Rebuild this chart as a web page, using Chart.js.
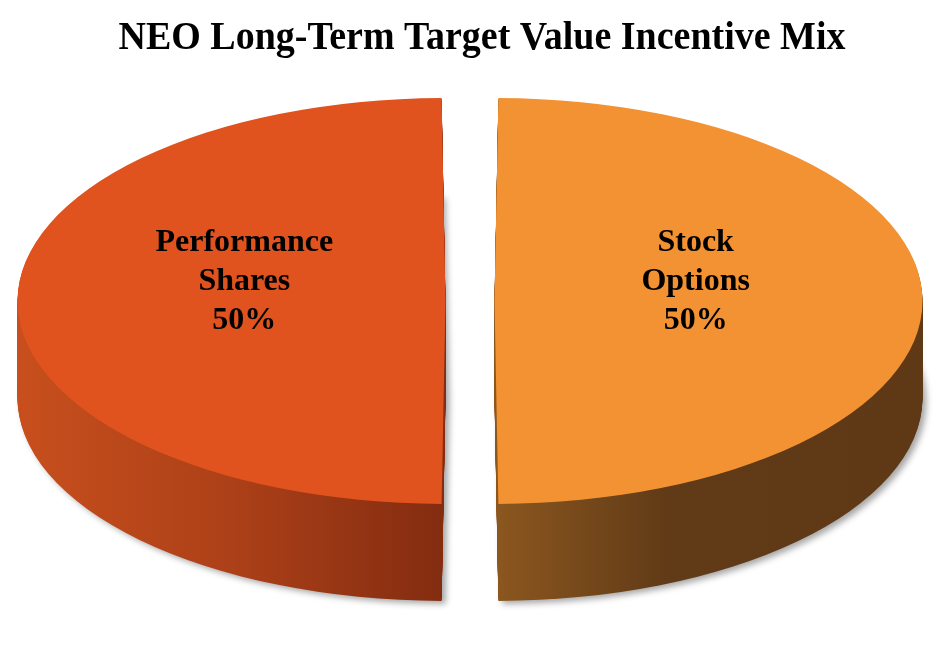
<!DOCTYPE html>
<html>
<head>
<meta charset="utf-8">
<script src="https://cdn.jsdelivr.net/npm/chart.js@4.4.0/dist/chart.umd.min.js"></script>
<style>
  html, body { margin: 0; padding: 0; background: #ffffff; }
  #wrap { width: 943px; height: 671px; position: relative; }
</style>
</head>
<body>
<div id="wrap"><canvas id="c" width="943" height="671"></canvas></div>
<script>
// ---- data ----
const chartTitle = 'NEO Long-Term Target Value Incentive Mix';
const categories = ['Stock Options', 'Performance Shares'];
const labelLines = [['Stock', 'Options'], ['Performance', 'Shares']];
const values = [50, 50];
const topColors = ['#F39232', '#E0531F'];
const sideColorStops = [
  [[0, '#8C571F'], [0.4, '#613B17'], [1, '#5F3915']],
  [[0, '#C84F1D'], [0.5, '#AC4018'], [1, '#832C10']]
];

// ---- geometry / style ----
const EXPLODE = 98;         // Chart.js arc offset (translates by offset/4)
const SQUASH = 203 / 428;   // vertical flattening of the pie top
const DEPTH = 97;           // thickness of the pie in px

function arcGeom(arc) {
  const p = arc.getProps(['x', 'y', 'startAngle', 'endAngle', 'outerRadius', 'circumference']);
  const half = (p.startAngle + p.endAngle) / 2;
  const off = (arc.options.offset || 0) / 4;
  const fix = 1 - Math.sin(Math.min(Math.PI, p.circumference || 0));
  const radOff = off * fix;
  const r = p.outerRadius + radOff;
  const circ = p.endAngle - p.startAngle;
  const beta = Math.max(0.001, circ * r - radOff / Math.PI) / r;
  const ao = (circ - beta) / 2;
  return {
    ox: p.x + Math.cos(half) * off,
    oy: p.y + Math.sin(half) * off,
    r: r,
    start: p.startAngle + ao, end: p.endAngle - ao, half
  };
}

const pie3d = {
  id: 'pie3d',
  beforeDatasetsDraw(chart) {
    const meta = chart.getDatasetMeta(0);
    const ctx = chart.ctx;
    const cy = meta.data[0].y;
    meta.data.forEach((arc, idx) => {
      const g0 = arcGeom(arc);
      const right = Math.cos(g0.half) > 0;
      const x0 = right ? g0.ox : g0.ox - g0.r;
      const x1 = right ? g0.ox + g0.r : g0.ox;
      const g = ctx.createLinearGradient(x0, 0, x1, 0);
      sideColorStops[idx].forEach(s => g.addColorStop(s[0], s[1]));
      for (let d = DEPTH; d >= 1; d--) {
        ctx.save();
        if (d === DEPTH) {
          ctx.shadowColor = 'rgba(0,0,0,0.35)';
          ctx.shadowBlur = 6;
          ctx.shadowOffsetX = 4;
          ctx.shadowOffsetY = 3;
        }
        ctx.translate(0, cy + d);
        ctx.scale(1, SQUASH);
        ctx.translate(0, -cy);
        ctx.beginPath();
        ctx.moveTo(g0.ox, g0.oy);
        ctx.arc(g0.ox, g0.oy, g0.r, g0.start, g0.end);
        ctx.closePath();
        ctx.fillStyle = g;
        ctx.fill();
        ctx.restore();
      }
    });
    // squash the top faces drawn by Chart.js
    ctx.save();
    ctx.translate(0, cy);
    ctx.scale(1, SQUASH);
    ctx.translate(0, -cy);
  },
  afterDatasetsDraw(chart) {
    const ctx = chart.ctx;
    ctx.restore();
    const meta = chart.getDatasetMeta(0);
    const total = values.reduce((a, b) => a + b, 0);
    ctx.save();
    ctx.fillStyle = '#000000';
    ctx.font = 'bold 32px "Liberation Serif", "Times New Roman", serif';
    ctx.textAlign = 'center';
    ctx.textBaseline = 'middle';
    meta.data.forEach((arc, idx) => {
      const g0 = arcGeom(arc);
      const lx = g0.ox + Math.cos(g0.half) * g0.r * 0.47;
      const ly = g0.oy - 19;
      const lines = labelLines[idx].concat([Math.round(values[idx] / total * 100) + '%']);
      const lh = 39;
      lines.forEach((t, i) => {
        ctx.fillText(t, lx, ly + (i - (lines.length - 1) / 2) * lh);
      });
    });
    ctx.restore();
  },
  afterDraw(chart) {
    const ctx = chart.ctx;
    ctx.save();
    ctx.font = 'bold 39px "Liberation Serif", "Times New Roman", serif';
    ctx.fillStyle = '#000000';
    ctx.textBaseline = 'alphabetic';
    const w = ctx.measureText(chartTitle).width;
    const sx = 727 / w;
    ctx.translate(482, 49);
    ctx.scale(sx, 1);
    ctx.textAlign = 'center';
    ctx.fillText(chartTitle, 0, 0);
    ctx.restore();
  }
};

new Chart(document.getElementById('c'), {
  type: 'pie',
  data: {
    labels: categories,
    datasets: [{
      data: values,
      backgroundColor: topColors,
      borderWidth: 0,
      offset: EXPLODE
    }]
  },
  options: {
    responsive: false,
    animation: false,
    events: [],
    radius: 428 - EXPLODE / 4,
    layout: { padding: { left: 0, right: 3, top: 0, bottom: 69 } },
    plugins: {
      legend: { display: false },
      tooltip: { enabled: false },
      title: { display: false }
    }
  },
  plugins: [pie3d]
});
</script>
</body>
</html>
